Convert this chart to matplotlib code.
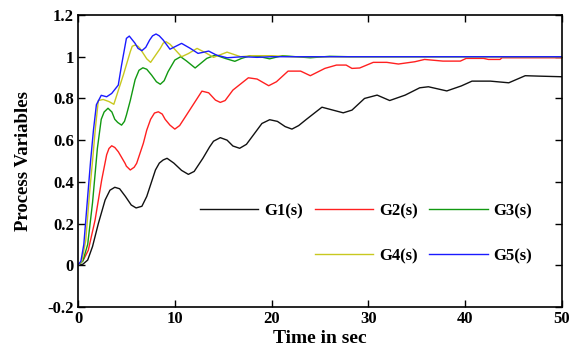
import matplotlib
matplotlib.use("Agg")
import matplotlib.pyplot as plt
from matplotlib.lines import Line2D

# ---- data ----
t_g1 = [0, 0.5, 1.0, 1.5, 2.1, 2.8, 3.3, 3.8, 4.3, 4.9, 5.5, 6.0, 6.6, 7.1, 8.0, 8.4, 8.8, 9.2, 9.9,
        10.7, 11.4, 12.0, 12.9, 13.6, 14.0, 14.7, 15.4, 16.0, 16.7, 17.4, 18.2, 19.0, 19.8, 20.6,
        21.4, 22.1, 22.8, 23.6, 25.2, 27.4, 28.3, 29.6, 30.9, 32.2, 33.8, 35.3, 36.2, 38.1,
        39.6, 40.7, 42.6, 44.5, 46.2, 47.6, 50]
g1 = [0, 0.005, 0.025, 0.09, 0.2, 0.313, 0.36, 0.374, 0.367, 0.33, 0.289, 0.275, 0.283, 0.33, 0.457,
      0.49, 0.505, 0.513, 0.49, 0.455, 0.436, 0.45, 0.513, 0.568, 0.595, 0.612, 0.6, 0.572, 0.561,
      0.58, 0.63, 0.68, 0.698, 0.69, 0.665, 0.653, 0.67, 0.70, 0.758, 0.731, 0.744, 0.80, 0.816,
      0.79, 0.816, 0.851, 0.856, 0.836, 0.86, 0.883, 0.883, 0.875, 0.909, 0.907, 0.904]

t_g2 = [0, 0.55, 1.06, 1.76, 2.45, 2.96, 3.2, 3.48, 3.8, 4.17, 4.86, 5.0, 5.4, 5.8, 6.06, 6.75, 7.1,
        7.5, 7.9, 8.3, 8.7, 9.0, 9.5, 10.0, 10.5, 11.2, 12.8, 13.5, 14.2, 14.7, 15.2, 16.0, 17.6,
        18.5, 19.7, 20.5, 21.7, 23.0, 24.0, 25.5, 26.7, 27.7, 28.3, 29.1, 30.5, 31.9, 33.1, 34.8,
        35.8, 37.7, 39.5, 40.1, 41.9, 42.4, 43.6, 43.8, 50]
g2 = [0, 0.025, 0.072, 0.216, 0.41, 0.53, 0.56, 0.573, 0.565, 0.544, 0.489, 0.475, 0.457, 0.47, 0.489,
      0.585, 0.648, 0.7, 0.73, 0.736, 0.725, 0.70, 0.672, 0.653, 0.67, 0.72, 0.835, 0.827, 0.792,
      0.781, 0.79, 0.84, 0.899, 0.893, 0.861, 0.88, 0.931, 0.931, 0.909, 0.944, 0.96, 0.96, 0.944,
      0.946, 0.973, 0.973, 0.965, 0.976, 0.987, 0.979, 0.979, 0.992, 0.992, 0.987, 0.987, 0.995,
      0.995]

t_g3 = [0, 0.5, 1.0, 1.5, 2.0, 2.4, 2.7, 3.1, 3.5, 3.8, 4.1, 4.5, 4.8, 5.0, 5.4, 5.9, 6.3, 6.7, 7.1,
        7.6, 8.1, 8.5, 8.9, 9.3, 10.0, 10.6, 11.2, 12.1, 13.3, 14.2, 15.2, 16.2, 16.9, 17.8, 18.8,
        19.8, 21.1, 22.5, 24.0, 26.0, 28.0, 50]
g3 = [0, 0.02, 0.1, 0.3, 0.56, 0.7, 0.735, 0.753, 0.735, 0.70, 0.685, 0.672, 0.69, 0.72, 0.79, 0.89,
      0.935, 0.947, 0.94, 0.912, 0.88, 0.868, 0.885, 0.928, 0.984, 1.0, 0.98, 0.946, 0.992, 1.008,
      0.992, 0.978, 0.992, 1.005, 1.0, 0.99, 1.005, 1.0, 0.995, 1.002, 1.0, 1.0]

t_g4 = [0, 0.4, 0.8, 1.2, 1.5, 1.8, 2.1, 2.6, 3.2, 3.7, 4.7, 5.4, 5.6, 5.9, 6.2, 6.4, 7.1, 7.5, 8.5,
        8.8, 9.1, 9.5, 9.85, 10.7, 11.4, 12.3, 13.3, 14.0, 15.4, 16.8, 18.0, 20.0, 22.0, 50]
g4 = [0, 0.02, 0.12, 0.35, 0.5, 0.66, 0.79, 0.795, 0.785, 0.772, 0.915, 1.024, 1.05, 1.056, 1.05,
      1.04, 0.99, 0.973, 1.04, 1.065, 1.072, 1.06, 1.043, 1.0, 1.015, 1.04, 1.016, 0.997, 1.022,
      1.0, 1.005, 1.005, 1.0, 1.0]

t_g5 = [0, 0.3, 0.6, 1.0, 1.3, 1.6, 1.9, 2.4, 2.96, 3.48, 4.16, 4.5, 5.0, 5.3, 5.9, 6.2, 6.6, 7.0,
        7.4, 7.7, 8.06, 8.4, 8.8, 9.5, 10.7, 11.6, 12.4, 13.5, 14.3, 15.4, 17.0, 18.5, 20.0, 50]
g5 = [0, 0.02, 0.1, 0.33, 0.5, 0.65, 0.77, 0.815, 0.808, 0.824, 0.864, 0.96, 1.088, 1.099, 1.064, 1.04,
      1.029, 1.045, 1.08, 1.1, 1.109, 1.1, 1.08, 1.036, 1.064, 1.04, 1.016, 1.027, 1.008, 0.995,
      1.0, 0.997, 1.0, 1.0]

labels = ['G1(s)', 'G2(s)', 'G3(s)', 'G4(s)', 'G5(s)']
colors = ['#111111', '#ff2020', '#119911', '#c8c820', '#1a1aff']

x_ticks = [0, 10, 20, 30, 40, 50]
y_ticks = [-0.2, 0, 0.2, 0.4, 0.6, 0.8, 1, 1.2]
y_tick_labels = ['-0.2', '0', '0.2', '0.4', '0.6', '0.8', '1', '1.2']

# ---- figure ----
plt.rcParams['font.family'] = ['Liberation Serif', 'DejaVu Serif']
fig = plt.figure(figsize=(5.74, 3.6), dpi=100)
ax = fig.add_axes([0.1359, 0.1472, 0.8432, 0.8111])

series = [(t_g1, g1), (t_g2, g2), (t_g3, g3), (t_g4, g4), (t_g5, g5)]
handles = []
for (t, y), lab, c in zip(series, labels, colors):
    h, = ax.plot(t, y, color=c, lw=1.0, label=lab)
    handles.append(h)

ax.set_xlim(0, 50)
ax.set_ylim(-0.2, 1.2)
ax.set_xticks(x_ticks)
ax.set_xticklabels([str(v) for v in x_ticks])
ax.set_yticks(y_ticks)
ax.set_yticklabels(y_tick_labels)
ax.tick_params(direction='in', top=True, right=True, length=5, width=1.0,
               labelsize=12, pad=3)
for lbl in ax.get_xticklabels() + ax.get_yticklabels():
    lbl.set_fontweight('bold')
for s in ax.spines.values():
    s.set_linewidth(1.2)

ax.set_xlabel('Time in sec', fontsize=14, fontweight='bold', labelpad=2)
ax.set_ylabel('Process Variables', fontsize=13.5, fontweight='bold', labelpad=11)

blank = Line2D([], [], color='none')
leg_handles = [handles[0], blank, handles[1], handles[3], handles[2], handles[4]]
leg_labels = [labels[0], '', labels[1], labels[3], labels[2], labels[4]]
ax.legend(leg_handles, leg_labels, ncol=3, loc='upper left',
          bbox_to_anchor=(0.235, 0.385), frameon=False, borderpad=0,
          handlelength=3.5, handletextpad=0.35, columnspacing=0.7,
          labelspacing=1.75, prop={'weight': 'bold', 'size': 12})

fig.savefig('out.png', dpi=100)
